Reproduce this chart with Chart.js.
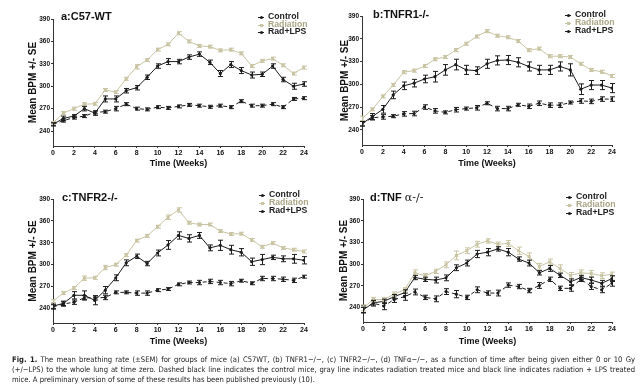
<!DOCTYPE html>
<html>
<head>
<meta charset="utf-8">
<script src="https://cdn.jsdelivr.net/npm/chart.js@4.4.1/dist/chart.umd.min.js"></script>
<style>
  html,body{margin:0;padding:0;background:#fff;}
  #wrap{position:relative;width:640px;height:390px;background:#fff;overflow:hidden;font-family:"Liberation Sans",Arial,sans-serif;}
  canvas{position:absolute;}
  .plabel{position:absolute;font-weight:bold;font-size:11px;line-height:11px;color:#111;white-space:nowrap;}
  .plabel .gr{font-weight:normal;font-family:"DejaVu Serif","Liberation Serif",serif;}
  .legend{position:absolute;font-weight:bold;font-size:8.7px;line-height:7.8px;white-space:nowrap;}
  .legend div{height:7.8px;}
  .mk{display:inline-block;position:relative;width:6px;height:7.8px;margin-right:4px;vertical-align:top;}
  .mk:before{content:'';position:absolute;left:0;right:0;top:4px;border-top:1px solid currentColor;}
  .mk:after{content:'';position:absolute;left:1.5px;top:3px;width:3px;height:3px;background:currentColor;border-radius:50%;}
  .mk.sq:after{border-radius:0;}
  .caption{position:absolute;left:12px;font-family:"DejaVu Sans Condensed","DejaVu Sans",sans-serif;font-size:7.6px;line-height:10px;color:#222;white-space:nowrap;}
  .caption .j{width:623px;text-align:justify;text-align-last:justify;}
</style>
</head>
<body>
<div id="wrap">
  <canvas id="ca" width="320" height="176" style="left:0;top:0"></canvas>
  <canvas id="cb" width="320" height="176" style="left:320px;top:0"></canvas>
  <canvas id="cc" width="320" height="178" style="left:0;top:175px"></canvas>
  <canvas id="cd" width="320" height="178" style="left:320px;top:175px"></canvas>

  <div class="plabel" style="left:61px;top:11px">a:C57-WT</div>
  <div class="plabel" style="left:373px;top:9px">b:TNFR1-/-</div>
  <div class="plabel" style="left:62px;top:192px">c:TNFR2-/-</div>
  <div class="plabel" style="left:370px;top:192px">d:TNF <span class="gr">α-/-</span></div>

  <div class="legend" id="lga" style="left:258px;top:12.8px"></div>
  <div class="legend" id="lgb" style="left:565px;top:11px"></div>
  <div class="legend" id="lgc" style="left:259px;top:191px"></div>
  <div class="legend" id="lgd" style="left:566px;top:193px"></div>

  <div class="caption" style="top:355px">
    <div class="j"><b>Fig. 1.</b> The mean breathing rate (±SEM) for groups of mice (a) C57WT, (b) TNFR1−/−, (c) TNFR2−/−, (d) TNFα−/−, as a function of time after being given either 0 or 10 Gy</div>
    <div class="j">(+/−LPS) to the whole lung at time zero. Dashed black line indicates the control mice, gray line indicates radiation treated mice and black line indicates radiation + LPS treated</div>
    <div>mice. A preliminary version of some of these results has been published previously (10).</div>
  </div>
</div>
<script>
// ---------- data ----------
const weeks = [0,1,2,3,4,5,6,7,8,9,10,11,12,13,14,15,16,17,18,19,20,21,22,23,24];
const yTickValues = [240,270,300,330,360,390];
const xTickValues = [0,2,4,6,8,10,12,14,16,18,20,22,24];
const seriesNames = ['Control','Radiation','Rad+LPS'];

// a: C57-WT
const ctlA = [249,254,258,260,265,266,270,276,270,269,272,271,273,275,274,272.5,274,272,280,274,274,276,272,283,284];
const radA = [251,264,270,276,276.5,295,292,310,326,335,349,356,371,360,354,353,348,349,344,327,334,337,328,317,325];
const lpsA = [249,257,260,270,264,283,283,294,298,312,327,333,333,339,343,332,317,329,321,315,316,327,309,300,303];
const ctlAse = [2,2,2,2,2,2,3,2,2,2,2,2,2,2,2,2,2,2,2,2,2,2,2,2,2];
const radAse = [2,2,2,2,2,2,2,2,3,2,2,2,2,2,2,2,2,2,2,2,2,2,2,2,2];
const lpsAse = [2,3,2,3,3,4,4,3,3,3,3,4,3,3,3,3,4,4,4,4,3,3,3,4,3];

// b: TNFR1-/-
const ctlB = [248,256,257,258,261,261.5,270,265,263,266.5,268,269,275,268,268,273,271,275,272.5,272.5,276,278,277.5,280.5,280.5];
const radB = [255,267,284,299,316,318,324,333,336,345,353.5,363,370,364,362,357,345,347,337,337,336,327,319,316.5,311];
const lpsB = [248,257.5,267,286,298,301.5,307,310,319,326,319,318,327,331.5,332,329,323.5,319,319,323.5,319,293.5,299,299,295];
const ctlBse = [3,3,3,2,3,3,3,3,2,3,2,3,2,3,3,2,3,3,3,3,2,3,3,3,3];
const radBse = [3,2,2,2,2,2,2,2,2,2,2,2,2,2,2,2,2,2,2,2,2,2,2,2,2];
const lpsBse = [3,4,5,5,5,5,5,7,7,7,6,5,6,6,6,6,6,6,6,6,8,7,6,6,6];

// c: TNFR2-/-
const ctlC = [242,246,248.5,254.5,254.5,255,262,262,261,261,265,266.5,273,275.5,275.5,277,275.5,274,278,274.5,281,281,280,278.5,283.5];
const radC = [250,261,268,281.5,282,296,300,313,333,339.5,352,365,375,357.5,355,355,346,342,342.5,334,324.5,329.5,323,320.5,318];
const lpsC = [243,247,258,258,251,265,282,302.5,311.5,301.5,316,327,340,336,340,323,326.5,320.5,317,304,307,310,308,308,306];
const ctlCse = [3,3,3,3,3,3,2,2,3,3,2,2,2,2,3,3,3,3,2,2,3,3,3,3,2];
const radCse = [2,2,2,3,2,3,2,2,2,2,2,3,3,2,2,2,2,2,2,2,2,2,2,2,2];
const lpsCse = [3,3,5,6,6,5,4,4,3,3,4,6,5,5,4,4,7,6,5,5,7,3,4,6,5];

// d: TNF alpha-/-
const ctlD = [238,246,242,251,255,261.5,254,252,262,258.5,254,264.5,260,260,271,269,263.5,270.5,279,266.5,266.5,279,269,264.5,273.5];
const radD = [239.5,251,251,258.5,264.5,288,284,290,299,312,318.5,327.5,332,327.5,328.5,318.5,310.5,297,303,294,284.5,288,287,284,286];
const lpsD = [236.5,246.5,248.5,255,260.5,281.5,279,278,281,295,301.5,314,316.5,321,316.5,307,301.5,288,294,284.5,275.5,281.5,278,273.5,280];
const ctlDse = [5,4,5,4,5,4,3,4,4,5,3,4,3,4,3,3,3,4,3,3,4,3,4,4,4];
const radDse = [4,3,3,3,3,4,3,3,4,6,4,4,3,3,4,5,5,4,4,5,4,4,4,4,3];
const lpsDse = [4,3,3,3,4,3,3,4,4,4,4,5,5,3,5,3,4,3,4,3,4,3,4,4,4];

// ---------- styling ----------
const BLACK = '#1c1c1c';
const KHAKI = '#c9c4a3';
const KHAKI_TXT = '#aaa585';
const FONT = '"Liberation Sans", Arial, sans-serif';

const errorBars = {
  id: 'errorBars',
  afterDatasetsDraw(chart) {
    const ctx = chart.ctx, xs = chart.scales.x, ys = chart.scales.y;
    chart.data.datasets.forEach(ds => {
      ctx.save();
      ctx.strokeStyle = ds.borderColor;
      ctx.lineWidth = 1;
      ctx.setLineDash([]);
      ds.data.forEach((p, i) => {
        const se = ds.se[i];
        const x = Math.round(xs.getPixelForValue(p.x)) + 0.5;
        const y1 = ys.getPixelForValue(p.y - se);
        const y2 = ys.getPixelForValue(p.y + se);
        ctx.beginPath();
        ctx.moveTo(x, y1); ctx.lineTo(x, y2);
        ctx.moveTo(x - 2.5, y1); ctx.lineTo(x + 2.5, y1);
        ctx.moveTo(x - 2.5, y2); ctx.lineTo(x + 2.5, y2);
        ctx.stroke();
      });
      ctx.restore();
    });
  }
};

function pts(arr) { return arr.map((v, i) => ({x: weeks[i], y: v})); }

function makePanel(id, ctl, rad, lps, ctlSe, radSe, lpsSe, g) {
  new Chart(document.getElementById(id), {
    type: 'line',
    data: {
      datasets: [
        {label: seriesNames[0], data: pts(ctl), se: ctlSe, borderColor: BLACK, backgroundColor: BLACK,
         borderWidth: 1, borderDash: [4, 3], pointStyle: 'circle', pointRadius: 1.6, pointBorderWidth: 0, tension: 0},
        {label: seriesNames[1], data: pts(rad), se: radSe, borderColor: KHAKI, backgroundColor: KHAKI,
         borderWidth: 1, pointStyle: 'rect', pointRadius: 2.2, pointBorderWidth: 0, tension: 0},
        {label: seriesNames[2], data: pts(lps), se: lpsSe, borderColor: BLACK, backgroundColor: BLACK,
         borderWidth: 1, pointStyle: 'circle', pointRadius: 1.6, pointBorderWidth: 0, tension: 0}
      ]
    },
    options: {
      responsive: false, animation: false, events: [],
      layout: {padding: {left: g.pl, top: g.top, right: g.pr, bottom: 0}},
      plugins: {legend: {display: false}, tooltip: {enabled: false}},
      scales: {
        x: {
          type: 'linear', min: 0, max: 24,
          afterBuildTicks(s) { s.ticks = xTickValues.map(v => ({value: v})); },
          afterFit(s) { s.height = g.xh; },
          ticks: {color: '#111', padding: 1, maxRotation: 0, autoSkip: false, font: {family: FONT, size: 7, weight: 'bold'}},
          grid: {drawOnChartArea: false, tickLength: 2, color: '#333', tickWidth: 1},
          border: {color: '#333', width: 1},
          title: {display: true, text: 'Time (Weeks)', color: '#111', padding: {top: 0, bottom: g.tb},
                  font: {family: FONT, size: 9, weight: 'bold'}}
        },
        y: {
          type: 'linear', min: 220, max: 390,
          afterBuildTicks(s) { s.ticks = yTickValues.map(v => ({value: v})); },
          afterFit(s) { s.width = g.yw; },
          ticks: {color: '#111', padding: 1, font: {family: FONT, size: 6.5, weight: 'bold'}},
          grid: {drawOnChartArea: false, tickLength: 2, color: '#333', tickWidth: 1},
          border: {color: '#333', width: 1},
          title: {display: true, text: 'Mean BPM +/- SE', color: '#111', padding: 0,
                  font: {family: FONT, size: 10, weight: 'bold'}}
        }
      }
    },
    plugins: [errorBars]
  });
}

function makeLegend(id) {
  const el = document.getElementById(id);
  const styles = [
    {c: BLACK, t: BLACK, sq: false},
    {c: KHAKI, t: KHAKI_TXT, sq: true},
    {c: BLACK, t: BLACK, sq: false}
  ];
  seriesNames.forEach((n, i) => {
    const row = document.createElement('div');
    row.style.color = styles[i].t;
    const mk = document.createElement('span');
    mk.className = 'mk' + (styles[i].sq ? ' sq' : '');
    mk.style.color = styles[i].c;
    row.appendChild(mk);
    row.appendChild(document.createTextNode(n));
    el.appendChild(row);
  });
}

makePanel('ca', ctlA, radA, lpsA, ctlAse, radAse, lpsAse, {pl: 27, yw: 26, top: 19, pr: 16, xh: 30, tb: 6.6});
makePanel('cb', ctlB, radB, lpsB, ctlBse, radBse, lpsBse, {pl: 19, yw: 23, top: 16, pr: 28, xh: 31, tb: 6.6});
makePanel('cc', ctlC, radC, lpsC, ctlCse, radCse, lpsCse, {pl: 27, yw: 26, top: 24, pr: 16, xh: 30, tb: 5.6});
makePanel('cd', ctlD, radD, lpsD, ctlDse, radDse, lpsDse, {pl: 18, yw: 25, top: 24, pr: 28, xh: 31, tb: 5.6});
['lga','lgb','lgc','lgd'].forEach(makeLegend);
</script>
</body>
</html>
